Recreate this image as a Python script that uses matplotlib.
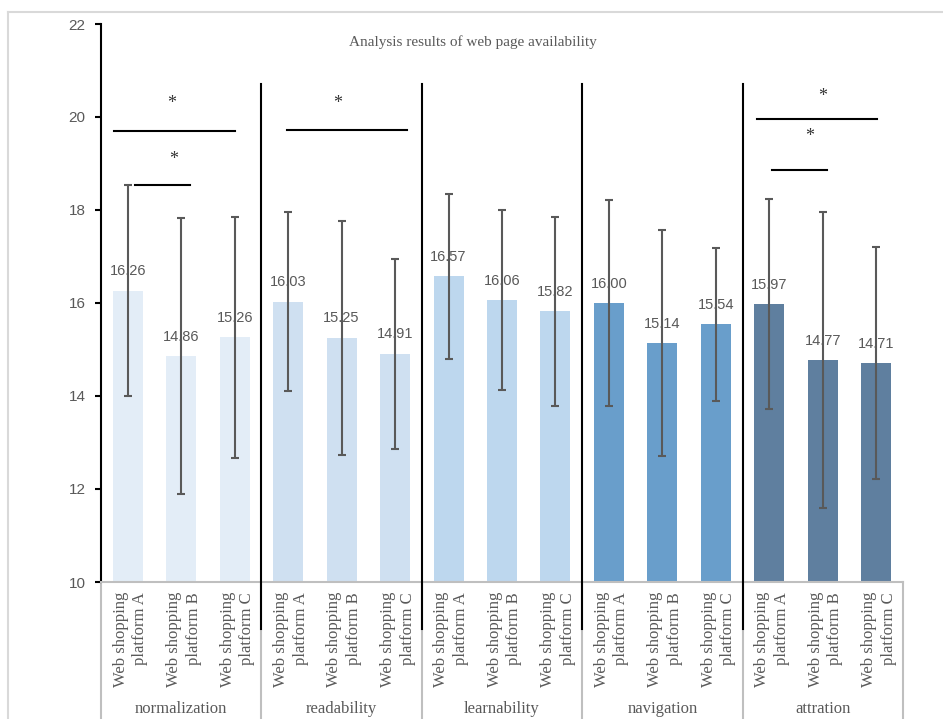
import matplotlib

matplotlib.use("Agg")
import matplotlib.pyplot as plt
from matplotlib.lines import Line2D

groups = ["normalization", "readability", "learnability", "navigation", "attration"]
platforms = ["Web shopping\nplatform A", "Web shopping\nplatform B", "Web shopping\nplatform C"]

means = [
    [16.26, 14.86, 15.26],
    [16.03, 15.25, 14.91],
    [16.57, 16.06, 15.82],
    [16.00, 15.14, 15.54],
    [15.97, 14.77, 14.71],
]
stds = [
    [2.27, 2.96, 2.60],
    [1.93, 2.51, 2.04],
    [1.77, 1.93, 2.03],
    [2.22, 2.44, 1.65],
    [2.26, 3.18, 2.49],
]
group_colors = ["#E3EDF7", "#CFE0F1", "#BDD7EE", "#699ECB", "#5F7F9F"]

# significance brackets: (x start, x end, line y, star x, star y)
sig_marks = [
    (-0.26, 2.01, 19.70, 0.83, 20.28),
    (0.14, 1.16, 18.54, 0.85, 19.08),
    (2.98, 5.22, 19.72, 3.93, 20.28),
    (11.77, 14.01, 19.96, 13.00, 20.44),
    (12.05, 13.08, 18.85, 12.76, 19.59),
]

TEXT_GRAY = "#595959"
AXIS_GRAY = "#BFBFBF"


def main() -> None:
    fig = plt.figure(figsize=(9.43, 7.19), dpi=100)
    ax = fig.add_axes([101 / 943, 1 - 582 / 719, 802 / 943, 558 / 719])

    # light chart-area frame on the top and left edges
    fig.add_artist(Line2D([8 / 943, 1.0], [1 - 12 / 719] * 2, color="#D9D9D9", lw=1.5))
    fig.add_artist(Line2D([8 / 943] * 2, [0.0, 1 - 12 / 719], color="#D9D9D9", lw=1.5))

    n_per = len(platforms)
    for g, group in enumerate(groups):
        xs = [g * n_per + i for i in range(n_per)]
        ax.bar(xs, means[g], width=0.56, color=group_colors[g], zorder=2)
        ax.errorbar(xs, means[g], yerr=stds[g], fmt="none", ecolor="#595959",
                    elinewidth=1.5, capsize=3, capthick=1.5, zorder=3)
        for x, m in zip(xs, means[g]):
            ax.annotate(f"{m:.2f}", (x, m), xytext=(0, 14), textcoords="offset points",
                        ha="center", va="center", fontsize=10.5, color=TEXT_GRAY,
                        family="Liberation Sans", zorder=4)
            ax.text(x + 0.05, -0.018, platforms[x % n_per], transform=ax.get_xaxis_transform(),
                    rotation=90, ha="center", va="top", multialignment="right",
                    fontsize=12, color=TEXT_GRAY, family="Liberation Serif", linespacing=1.3)
        ax.text(g * n_per + 1, -0.227, group, transform=ax.get_xaxis_transform(),
                ha="center", va="center", fontsize=12, color=TEXT_GRAY, family="Liberation Serif")

    # group separators: black above the axis, grey category dividers below it
    for b in range(len(groups) + 1):
        xb = b * n_per - 0.5
        ax.plot([xb, xb], [10, 7.0], color=AXIS_GRAY, lw=1.5, clip_on=False, zorder=1)
        if 0 < b < len(groups):
            ax.plot([xb, xb], [9.0, 20.72], color="black", lw=1.5, clip_on=False, zorder=5)

    for x0, x1, y, sx, sy in sig_marks:
        ax.plot([x0, x1], [y, y], color="black", lw=1.5, zorder=5)
        ax.text(sx, sy, "*", ha="center", va="center", fontsize=13, color="#333333",
                family="Liberation Serif")

    ax.text(6.46, 21.61, "Analysis results of web page availability", ha="center", va="center",
            fontsize=11, color=TEXT_GRAY, family="Liberation Serif")

    ax.set_xlim(-0.5, len(groups) * n_per - 0.5)
    ax.set_ylim(10, 22)
    ax.set_yticks(range(10, 23, 2))
    ax.set_xticks([])
    for label in ax.get_yticklabels():
        label.set_family("Liberation Sans")
    ax.tick_params(axis="y", direction="out", length=4, width=1.5, color="black",
                   labelsize=11, labelcolor=TEXT_GRAY, pad=7)
    ax.spines["top"].set_visible(False)
    ax.spines["right"].set_visible(False)
    ax.spines["left"].set_linewidth(1.5)
    ax.spines["left"].set_color("black")
    ax.spines["bottom"].set_linewidth(1.5)
    ax.spines["bottom"].set_color(AXIS_GRAY)

    fig.savefig("out.png", dpi=100)


if __name__ == "__main__":
    main()
